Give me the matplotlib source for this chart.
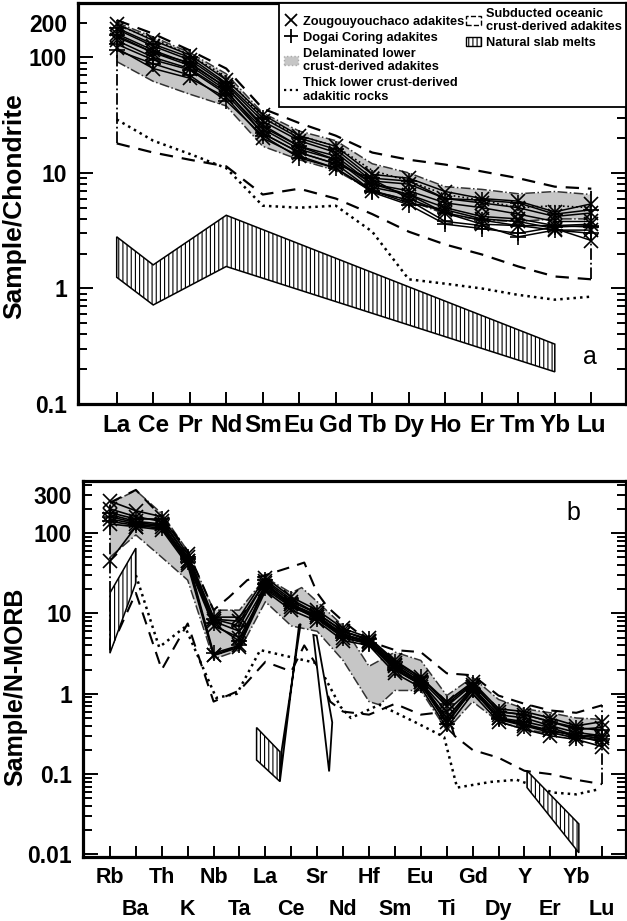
import numpy as np
import matplotlib
matplotlib.use("Agg")
import matplotlib.pyplot as plt
from matplotlib.lines import Line2D
from matplotlib.patches import Patch
from matplotlib.ticker import FixedLocator, LogLocator, NullFormatter

plt.rcParams['font.family'] = ['Liberation Sans', 'DejaVu Sans']
plt.rcParams['font.weight'] = 'bold'
plt.rcParams['hatch.linewidth'] = 0.8

# ---------------- panel a : chondrite normalised REE ----------------
ree = ['La', 'Ce', 'Pr', 'Nd', 'Sm', 'Eu', 'Gd', 'Tb', 'Dy', 'Ho', 'Er', 'Tm', 'Yb', 'Lu']

zou_ree = [
    [195, 140, 105, 64, 32, 21, 17, 9.7, 9.0, 6.9, 6.0, 5.7, 4.6, 5.4],
    [175, 125, 95, 58, 28, 19, 15, 8.5, 8.0, 6.0, 5.5, 5.0, 4.2, 4.5],
    [160, 115, 88, 55, 26, 17, 14, 8.0, 7.0, 5.5, 5.0, 4.4, 3.8, 3.8],
    [140, 100, 80, 50, 24, 16, 13, 7.5, 6.5, 5.0, 4.2, 4.0, 3.5, 3.6],
    [120, 80, 66, 45, 20, 14, 11, 7.0, 5.5, 4.8, 4.0, 3.8, 3.3, 2.6],
    [150, 110, 85, 52, 22, 15, 12, 8.8, 6.0, 4.5, 3.6, 3.5, 3.2, 3.2],
]
dog_ree = [
    [180, 130, 100, 60, 30, 20, 16, 9.0, 8.5, 6.0, 5.8, 5.5, 4.4, 4.8],
    [155, 110, 90, 55, 25, 17, 13, 8.0, 6.5, 4.5, 3.9, 3.5, 3.5, 3.4],
    [130, 95, 78, 48, 22, 15, 12, 7.0, 5.8, 3.8, 3.5, 2.8, 3.2, 3.0],
    [115, 88, 70, 42, 21, 13.5, 11, 6.8, 5.3, 3.6, 3.3, 3.0, 3.4, 3.5],
]

delam_up_ree = [200, 150, 110, 72, 33, 23, 19, 12, 10, 7.6, 7.2, 6.6, 6.9, 6.5]
delam_lo_ree = [92, 62, 48, 38, 17, 13, 10.5, 7.0, 5.8, 4.4, 3.9, 3.8, 4.0, 4.0]

sub_up_ree = [210, 160, 115, 80, 36, 27, 21, 15, 13, 11.8, 10.3, 9.0, 7.6, 7.3]
sub_lo_ree = [18, 15, 13, 11.4, 6.5, 7.3, 6.0, 4.4, 3.1, 2.4, 1.97, 1.55, 1.27, 1.2]

thick_up_ree = [190, 145, 105, 68, 30, 21, 17, 10.5, 8.5, 6.5, 5.8, 5.0, 5.2, 5.0]
thick_lo_ree = [29, 19, 14.6, 11, 5.2, 5.0, 5.2, 3.1, 1.2, 1.1, 1.0, 0.88, 0.8, 0.85]

slab_ree_x = [0, 1, 3, 12, 12, 3, 1, 0]
slab_ree_y = [2.8, 1.6, 4.3, 0.33, 0.19, 1.55, 0.72, 1.25]

# ---------------- panel b : N-MORB normalised spider ----------------
spider = ['Rb', 'Ba', 'Th', 'K', 'Nb', 'Ta', 'La', 'Ce', 'Sr', 'Nd',
          'Hf', 'Sm', 'Eu', 'Ti', 'Gd', 'Dy', 'Y', 'Er', 'Yb', 'Lu']

zou_sp = [
    [250, 190, 160, 55, 9, 9, 28, 16, 11, 6.5, 5.0, 2.6, 1.6, 0.8, 1.4, 0.65, 0.6, 0.5, 0.4, 0.45],
    [200, 160, 140, 50, 8.5, 8, 25, 14, 10, 6.0, 4.6, 2.4, 1.5, 0.7, 1.3, 0.6, 0.55, 0.45, 0.36, 0.38],
    [170, 140, 130, 45, 8, 6, 22, 13, 9.5, 5.5, 4.4, 2.2, 1.4, 0.6, 1.2, 0.55, 0.5, 0.4, 0.33, 0.3],
    [150, 130, 120, 42, 7, 5, 20, 12, 9, 5.0, 4.2, 2.0, 1.3, 0.45, 1.1, 0.5, 0.42, 0.35, 0.3, 0.28],
    [130, 120, 110, 40, 3, 4, 19, 11, 8, 4.6, 4.0, 1.8, 1.2, 0.38, 1.0, 0.45, 0.36, 0.3, 0.27, 0.22],
    [45, 120, 130, 45, 3, 3.8, 24, 13, 9, 5.5, 4.5, 2.3, 1.4, 0.5, 1.2, 0.5, 0.4, 0.35, 0.3, 0.25],
]
dog_sp = [
    [180, 150, 150, 50, 8.5, 7, 26, 15, 10, 6.0, 4.8, 2.5, 1.6, 0.75, 1.35, 0.6, 0.55, 0.45, 0.38, 0.35],
    [140, 125, 115, 44, 7.5, 4.5, 21, 12.5, 8.5, 5.0, 4.2, 2.0, 1.3, 0.5, 1.1, 0.5, 0.45, 0.38, 0.3, 0.3],
    [160, 135, 125, 48, 3.2, 4, 23, 13, 9, 5.3, 4.3, 2.1, 1.35, 0.42, 1.15, 0.48, 0.4, 0.33, 0.28, 0.27],
]

delam_up_x = [0, 1, 2, 3, 4, 5, 6, 7, 7.4, 8, 9, 10, 11, 12, 13, 14, 15, 16, 17, 18, 19]
delam_up_y = [235, 340, 175, 60, 11, 11, 28, 18, 21, 14, 7, 2.2, 3.3, 2.6, 0.95, 1.6, 0.85, 0.65, 0.58, 0.5, 0.48]
delam_lo_x = [0, 1, 2, 3, 4, 5, 6, 7, 8, 9, 10, 10.4, 11, 12, 13, 14, 15, 16, 17, 18, 19]
delam_lo_y = [50, 95, 50, 26, 2.7, 3.5, 14, 7, 6, 2.6, 0.8, 0.73, 1.1, 1.1, 0.35, 0.8, 0.45, 0.36, 0.32, 0.3, 0.3]

sub_up_x = [0, 1, 2, 3, 4, 4.6, 5.3, 6, 7, 7.5, 8, 8.4, 9, 10, 11, 12, 13, 14, 15, 16, 17, 18, 19]
sub_up_y = [240, 345, 160, 60, 11, 16, 26, 30, 38, 43, 18, 12, 8, 4.5, 3.5, 3.3, 1.8, 1.7, 0.95, 0.75, 0.62, 0.58, 0.72]
sub_lo_x = [0, 1, 2, 3, 4, 5, 6, 7, 7.5, 8, 8.5, 9, 10, 11, 12, 13, 13.3, 14, 15, 16, 17, 18, 19]
sub_lo_y = [3.5, 18, 2.0, 7.5, 0.8, 1.1, 2.5, 1.9, 4.0, 2.2, 0.8, 0.6, 0.55, 0.75, 0.55, 0.6, 0.3, 0.2, 0.16, 0.11, 0.1, 0.085, 0.075]

thick_lo_x = [1, 1.9, 2.9, 4.1, 4.9, 5.8, 6.9, 8, 8.9, 9.3, 10.4, 11.8, 12.9, 13.4, 14.7, 15.7, 17.1, 18, 18.8]
thick_lo_y = [30, 3.8, 6.8, 0.89, 1.0, 3.5, 2.9, 2.4, 0.69, 0.5, 0.73, 0.44, 0.29, 0.068, 0.08, 0.085, 0.059, 0.056, 0.064]

slab_rb_x = [0, 1, 1, 0]
slab_rb_y = [18, 65, 24, 3.2]
slab_la_x = [5.66, 6.56, 6.56, 5.66]
slab_la_y = [0.38, 0.19, 0.081, 0.15]
spike1_x = [6.56, 7.3, 7.36, 6.62]
spike1_y = [0.081, 7.2, 7.4, 0.19]
spike2_x = [7.85, 8.46, 8.58, 7.98]
spike2_y = [5.4, 0.108, 0.44, 5.3]
slab_y_x = [16.1, 18.1, 18.1, 16.1]
slab_y_y = [0.11, 0.024, 0.0105, 0.068]

GRAY = '#c6c6c6'


def style_axes(ax, tick_len):
    ax.set_yscale('log')
    for s in ax.spines.values():
        s.set_linewidth(2.3)
    ax.tick_params(axis='y', which='both', direction='in', left=True, right=True,
                   labelsize=16.5, pad=8, width=1.4)
    ax.tick_params(axis='y', which='major', length=11)
    ax.tick_params(axis='y', which='minor', length=6.5)
    ax.yaxis.set_minor_locator(LogLocator(base=10, subs=np.arange(2, 10)))
    ax.yaxis.set_minor_formatter(NullFormatter())
    ax.tick_params(axis='x', which='both', direction='in', top=False,
                   length=tick_len, width=1.4)


fig = plt.figure(figsize=(6.27, 9.21), dpi=100)

# ---------------- panel a ----------------
ax1 = fig.add_axes([0.1244, 0.5613, 0.874, 0.4354])
xr = np.arange(len(ree))

ax1.fill_between(xr, delam_lo_ree, delam_up_ree, color=GRAY, lw=0, zorder=1)
ax1.plot(xr, delam_up_ree, color='#333333', ls='-.', lw=1.1, zorder=2)
ax1.plot(xr, delam_lo_ree, color='#333333', ls='-.', lw=1.1, zorder=2)

ax1.plot(xr, sub_up_ree, 'k--', lw=1.6, dashes=(6, 4), zorder=2)
ax1.plot(xr, sub_lo_ree, 'k--', lw=1.6, dashes=(6, 4), zorder=2)
ax1.plot([0, 0], [sub_lo_ree[0], 110], color='k', ls='-.', lw=1.3, zorder=2)
ax1.plot([13, 13], [sub_lo_ree[-1], sub_up_ree[-1]], color='k', ls='-.', lw=1.3, zorder=2)

ax1.plot(xr, thick_lo_ree, 'k:', lw=1.8, zorder=2)
ax1.plot(xr, thick_up_ree, 'k:', lw=1.2, zorder=2)

ax1.fill(slab_ree_x, slab_ree_y, facecolor='white', edgecolor='k', hatch='||||', lw=1.1, zorder=3)

for s in zou_ree:
    ax1.plot(xr, s, color='k', lw=1.1, marker='x', ms=10, mew=1.2, zorder=4)
for s in dog_ree:
    ax1.plot(xr, s, color='k', lw=1.1, marker='+', ms=11, mew=1.2, zorder=4)

style_axes(ax1, 8.5)
ax1.set_xlim(-1.06, 13.95)
ax1.set_ylim(0.1, 295)
ax1.set_xticks(xr)
ax1.set_xticklabels(ree, fontsize=17.5, fontweight='bold')
ax1.tick_params(axis='x', pad=7)
ax1.yaxis.set_major_locator(FixedLocator([0.1, 1, 10, 100, 200]))
ax1.set_yticklabels(['0.1', '1', '10', '100', '200'], fontweight='bold')
ax1.yaxis.get_major_ticks()[4].tick1line.set_markersize(6.5)
ax1.yaxis.get_major_ticks()[4].tick2line.set_markersize(6.5)
ax1.text(0.934, 0.117, 'a', transform=ax1.transAxes, fontsize=18,
         fontweight='normal', ha='center', va='center')

handles = [
    Line2D([], [], color='k', marker='x', ls='none', ms=9, mew=1.3),
    Line2D([], [], color='k', marker='+', ls='none', ms=10, mew=1.3),
    Patch(facecolor=GRAY, edgecolor='#aaaaaa', ls=':'),
    Line2D([], [], color='k', ls=':', lw=1.6),
    Patch(facecolor='white', edgecolor='k', ls='--'),
    Patch(facecolor='white', edgecolor='k', hatch='||||'),
    Line2D([], [], ls='none'),
    Line2D([], [], ls='none'),
]
labels = ['Zougouyouchaco adakites', 'Dogai Coring adakites',
          'Delaminated lower\ncrust-derived adakites',
          'Thick lower crust-derived\nadakitic rocks',
          'Subducted oceanic\ncrust-derived adakites', 'Natural slab melts', '', '']
leg = ax1.legend(handles, labels, ncol=2, loc='upper right', bbox_to_anchor=(1.0, 1.0),
                 borderaxespad=0.0, handlelength=1.1, handletextpad=0.4,
                 columnspacing=0.2, labelspacing=0.3, borderpad=0.35, frameon=True,
                 fancybox=False, framealpha=1.0, edgecolor='k',
                 prop={'weight': 'bold', 'size': 9.2})
leg.get_frame().set_linewidth(1.3)

fig.text(0.022, 0.776, 'Sample/Chondrite', rotation=90, fontsize=19,
         fontweight='bold', ha='center', va='center')

# ---------------- panel b ----------------
ax2 = fig.add_axes([0.1324, 0.0695, 0.866, 0.4082])
xs = np.arange(len(spider))

ax2.fill(delam_up_x + delam_lo_x[::-1], delam_up_y + delam_lo_y[::-1],
         facecolor=GRAY, edgecolor='none', zorder=1)
ax2.plot(delam_up_x, delam_up_y, color='#333333', ls='-.', lw=1.1, zorder=2)
ax2.plot(delam_lo_x, delam_lo_y, color='#333333', ls='-.', lw=1.1, zorder=2)

ax2.plot(sub_up_x, sub_up_y, 'k--', lw=1.5, dashes=(6, 4), zorder=2)
ax2.plot(sub_lo_x, sub_lo_y, 'k--', lw=1.5, dashes=(6, 4), zorder=2)
ax2.plot([0, 0], [sub_lo_y[0], sub_up_y[0]], color='k', ls='-.', lw=1.3, zorder=2)
ax2.plot([19, 19], [sub_lo_y[-1], sub_up_y[-1]], color='k', ls='-.', lw=1.3, zorder=2)

ax2.plot(thick_lo_x, thick_lo_y, 'k:', lw=1.8, zorder=2)

for px, py in [(slab_rb_x, slab_rb_y), (slab_la_x, slab_la_y), (slab_y_x, slab_y_y)]:
    ax2.fill(px, py, facecolor='white', edgecolor='k', hatch='||||', lw=1.1, zorder=3)
for px, py in [(spike1_x, spike1_y), (spike2_x, spike2_y)]:
    ax2.fill(px, py, facecolor='white', edgecolor='k', lw=1.3, zorder=3)

for s in zou_sp:
    ax2.plot(xs, s, color='k', lw=1.2, marker='x', ms=10, mew=1.2, zorder=4)
for s in dog_sp:
    ax2.plot(xs, s, color='k', lw=1.2, marker='+', ms=11, mew=1.2, zorder=4)

style_axes(ax2, 8)
ax2.set_xlim(-1.04, 19.92)
ax2.set_ylim(0.0093, 445)
ax2.set_xticks(xs[::2])
ax2.set_xticklabels(spider[::2], fontsize=15.5, fontweight='bold')
ax2.set_xticks(xs[1::2], minor=True)
ax2.set_xticklabels(spider[1::2], minor=True, fontsize=15.5, fontweight='bold')
ax2.tick_params(axis='x', which='major', pad=7.5)
ax2.tick_params(axis='x', which='minor', pad=30)
ax2.yaxis.set_major_locator(FixedLocator([0.01, 0.1, 1, 10, 100, 300]))
ax2.set_yticklabels(['0.01', '0.1', '1', '10', '100', '300'], fontweight='bold')
ax2.yaxis.get_major_ticks()[5].tick1line.set_markersize(6.5)
ax2.yaxis.get_major_ticks()[5].tick2line.set_markersize(6.5)
ax2.text(0.904, 0.915, 'b', transform=ax2.transAxes, fontsize=18,
         fontweight='normal', ha='center', va='center')

fig.text(0.024, 0.254, 'Sample/N-MORB', rotation=90, fontsize=18,
         fontweight='bold', ha='center', va='center')

fig.savefig('out.png', dpi=100)
